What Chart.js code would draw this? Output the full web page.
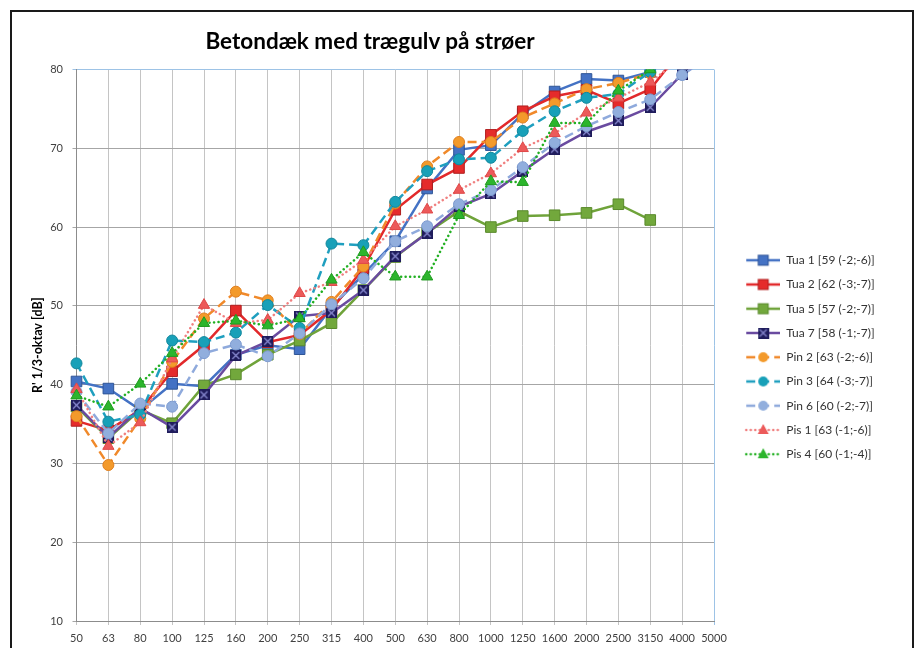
<!DOCTYPE html>
<html>
<head>
<meta charset="utf-8">
<script src="https://cdn.jsdelivr.net/npm/chart.js@4.4.1/dist/chart.umd.min.js"></script>
<style>
  html, body { margin: 0; padding: 0; background: #fff; overflow: hidden; }
  #wrap { position: relative; width: 921px; height: 648px; }
  #frame { position: absolute; left: 10px; top: 10px; width: 904px; height: 700px; border: 2px solid #1a1a1a; box-sizing: border-box; }
  #title { position: absolute; top: 30px; left: 370px; transform: translateX(-50%); font: bold 22.5px Lato, sans-serif; line-height: 1; white-space: nowrap; color: #000; }
  #chart { position: absolute; left: 0; top: 0; }
</style>
</head>
<body>
<div id="wrap">
  <div id="frame"></div>
  <canvas id="chart" width="921" height="648"></canvas>
  <div id="title">Betondæk med trægulv på strøer</div>
</div>
<script>
// frekvenser (1/3-oktav)
const bands = ['50', '63', '80', '100', '125', '160', '200', '250', '315', '400', '500', '630', '800', '1000', '1250', '1600', '2000', '2500', '3150', '4000', '5000'];

const tua1 = [40.4, 39.5, 36.8, 40.1, 39.8, 43.8, 45.0, 44.5, 49.8, 54.0, 58.2, 64.9, 69.8, 70.4, 74.4, 77.2, 78.8, 78.6, 79.7, 83.0, null];
const tua2 = [35.4, 34.2, 36.8, 41.7, 45.0, 49.4, 45.4, 46.3, 49.5, 54.8, 62.2, 65.4, 67.5, 71.7, 74.7, 76.6, 77.4, 75.7, 77.5, 82.6, null];
const tua5 = [37.2, 33.2, 36.8, 35.1, 39.9, 41.3, 43.8, 45.6, 47.8, 52.0, 56.2, 59.3, 62.0, 60.0, 61.4, 61.5, 61.8, 62.9, 60.9, null, null];
const tua7 = [37.4, 33.3, 37.0, 34.6, 38.7, 43.7, 45.5, 48.7, 49.1, 52.0, 56.3, 59.2, 62.6, 64.2, 67.1, 69.9, 72.1, 73.5, 75.2, 79.4, 82.0];
const pin2 = [36.0, 29.8, 35.7, 42.9, 48.4, 51.8, 50.7, 46.4, 50.5, 55.0, 63.0, 67.7, 70.8, 70.8, 73.9, 75.7, 77.5, 78.3, 79.5, 83.0, null];
const pin3 = [42.7, 35.3, 36.2, 45.6, 45.4, 46.6, 50.1, 47.2, 57.9, 57.7, 63.2, 67.1, 68.6, 68.8, 72.2, 74.7, 76.4, 76.9, 79.7, 82.5, null];
const pin6 = [39.1, 33.8, 37.6, 37.2, 44.0, 45.1, 43.6, 46.5, 50.2, 53.5, 58.2, 60.1, 62.9, 64.7, 67.6, 70.7, 72.8, 74.6, 76.2, 79.3, 82.0];
const pis1 = [39.4, 32.2, 35.2, 43.3, 50.1, 47.8, 48.2, 51.6, 53.0, 55.8, 60.1, 62.2, 64.7, 66.8, 70.0, 71.9, 74.5, 76.4, 78.4, 81.5, null];
const pis4 = [38.6, 37.2, 40.1, 44.0, 47.8, 48.1, 47.5, 48.4, 53.3, 56.8, 53.7, 53.7, 61.5, 65.8, 65.7, 73.2, 73.2, 77.3, 80.0, 82.0, null];

const seriesNames = ['Tua 1 [59 (-2;-6)]', 'Tua 2 [62 (-3;-7)]', 'Tua 5 [57 (-2;-7)]', 'Tua 7 [58 (-1;-7)]',
  'Pin 2 [63 (-2;-6)]', 'Pin 3 [64 (-3;-7)]', 'Pin 6 [60 (-2;-7)]', 'Pis 1 [63 (-1;-6)]', 'Pis 4 [60 (-1;-4)]'];
const yTicks = [10, 20, 30, 40, 50, 60, 70, 80];

const FONT = 'Lato, "Open Sans", sans-serif';
const SOLID = [], DASH = [9, 5], DOT = [0.1, 4.4];

// navy firkant med kryds (Tua 7)
function crossSquare() {
  const c = document.createElement('canvas');
  c.width = 11; c.height = 11;
  const g = c.getContext('2d');
  g.fillStyle = '#1f1c5c';
  g.fillRect(0, 0, 11, 11);
  g.strokeStyle = '#8d8fd6';
  g.lineWidth = 1.2;
  g.beginPath();
  g.moveTo(2, 2); g.lineTo(9, 9);
  g.moveTo(9, 2); g.lineTo(2, 9);
  g.stroke();
  return c;
}
const tua7Marker = crossSquare();

const styles = [
  { data: tua1, line: '#4472c4', fill: '#4472c4', edge: '#2f5597', dash: SOLID, point: 'rect', r: 7.5 },
  { data: tua2, line: '#e2292b', fill: '#e52b2b', edge: '#b01f1f', dash: SOLID, point: 'rect', r: 7.5 },
  { data: tua5, line: '#6fa33a', fill: '#72a83c', edge: '#5a8a2c', dash: SOLID, point: 'rect', r: 7.5 },
  { data: tua7, line: '#6a4ba0', fill: '#1f1c5c', edge: '#1f1c5c', dash: SOLID, point: tua7Marker, r: 6 },
  { data: pin2, line: '#f0892a', fill: '#f39a2b', edge: '#e07f1e', dash: DASH, point: 'circle', r: 5.5 },
  { data: pin3, line: '#1f9fbf', fill: '#18a0b8', edge: '#12879c', dash: DASH, point: 'circle', r: 5.5 },
  { data: pin6, line: '#8faadc', fill: '#91aedd', edge: '#7d9bd0', dash: DASH, point: 'circle', r: 5.5 },
  { data: pis1, line: '#f08080', fill: '#ec5a5a', edge: '#e04848', dash: DOT, point: 'triangle', r: 6.5 },
  { data: pis4, line: '#22b022', fill: '#2cb52c', edge: '#1f9a1f', dash: DOT, point: 'triangle', r: 6.5 }
];

// legend-ikon: linje med markør i midten
const ICON_W = 54;
function legendIcon(s) {
  const c = document.createElement('canvas');
  c.width = ICON_W; c.height = 14;
  const g = c.getContext('2d');
  g.strokeStyle = s.line;
  g.lineWidth = 2.5;
  g.lineCap = s.dash === DOT ? 'round' : 'butt';
  g.setLineDash(s.dash);
  g.beginPath(); g.moveTo(20, 7); g.lineTo(ICON_W, 7); g.stroke();
  g.setLineDash([]);
  const cx = 37, cy = 7;
  if (s.point === 'rect') {
    g.fillStyle = s.fill; g.fillRect(cx - 5, cy - 5, 10, 10);
    g.strokeStyle = s.edge; g.lineWidth = 1; g.strokeRect(cx - 5, cy - 5, 10, 10);
  } else if (s.point === 'circle') {
    g.fillStyle = s.fill; g.beginPath(); g.arc(cx, cy, 5, 0, Math.PI * 2); g.fill();
  } else if (s.point === 'triangle') {
    g.fillStyle = s.fill; g.beginPath();
    g.moveTo(cx, cy - 6); g.lineTo(cx + 5.5, cy + 4); g.lineTo(cx - 5.5, cy + 4); g.closePath(); g.fill();
  } else {
    g.drawImage(s.point, cx - 5.5, cy - 5.5);
  }
  return c;
}
const icons = styles.map(legendIcon);

// legendens bredde -> højre padding så plotområdet slutter ved x=714
const LEG_FONT = 12;
const LEG_PAD = 12.25;
const meas = document.createElement('canvas').getContext('2d');
meas.font = LEG_FONT + 'px ' + FONT;
const maxText = Math.max(...seriesNames.map(t => meas.measureText(t).width));
const padRight = 921 - 714 - (LEG_PAD + ICON_W + LEG_FONT / 2 + maxText + 10);

const datasets = styles.map((s, i) => ({
  label: seriesNames[i],
  data: s.data,
  borderColor: s.line,
  borderWidth: 2.5,
  borderDash: s.dash,
  borderCapStyle: s.dash === DOT ? 'round' : 'butt',
  backgroundColor: s.fill,
  pointStyle: s.point,
  pointRadius: s.r,
  pointBackgroundColor: s.fill,
  pointBorderColor: s.edge,
  pointBorderWidth: 1,
  tension: 0,
  fill: false,
  order: styles.length - i
}));

new Chart(document.getElementById('chart'), {
  type: 'line',
  data: { labels: bands, datasets },
  options: {
    responsive: false,
    animation: false,
    devicePixelRatio: 1,
    layout: { padding: { left: 26, top: 69.5, right: padRight, bottom: 3 } },
    plugins: {
      legend: {
        position: 'right',
        labels: {
          usePointStyle: true,
          pointStyleWidth: ICON_W,
          padding: LEG_PAD,
          color: '#333',
          font: { family: FONT, size: LEG_FONT },
          generateLabels: chart => chart.data.datasets.map((ds, i) => ({
            text: ds.label,
            pointStyle: icons[i],
            datasetIndex: i,
            fillStyle: 'transparent',
            strokeStyle: 'transparent',
            lineWidth: 0,
            fontColor: '#333',
            hidden: false
          }))
        }
      },
      tooltip: { enabled: false }
    },
    scales: {
      x: {
        offset: false,
        grid: {
          color: c => c.index === bands.length - 1 ? '#9dc3e6' : '#c4c4c4',
          tickLength: 4
        },
        border: { color: '#8c8c8c' },
        ticks: { autoSkip: false, maxRotation: 0, padding: 7, color: '#404040', font: { family: FONT, size: 11 } },
        afterFit: s => { s.height = 24; }
      },
      y: {
        min: yTicks[0],
        max: yTicks[yTicks.length - 1],
        afterBuildTicks: s => { s.ticks = yTicks.map(v => ({ value: v })); },
        grid: {
          color: c => c.tick && c.tick.value === 80 ? '#9dc3e6' : '#a6a6a6',
          tickLength: 4
        },
        border: { color: '#8c8c8c' },
        ticks: { padding: 9.5, color: '#404040', font: { family: FONT, size: 11 } },
        title: {
          display: true,
          text: "R' 1/3-oktav [dB]",
          color: '#000',
          padding: { top: 4, bottom: 4 },
          font: { family: FONT, size: 12.5, weight: 'bold' }
        },
        afterFit: s => { s.width = 50.5; }
      }
    }
  }
});
</script>
</body>
</html>
